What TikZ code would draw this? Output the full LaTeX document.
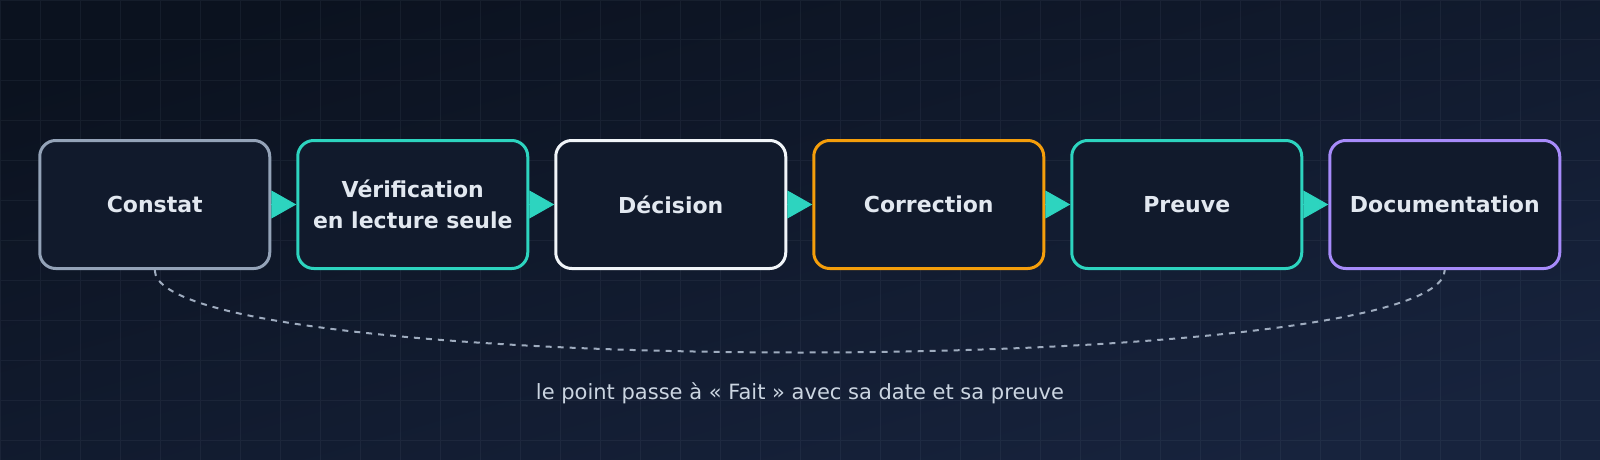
\documentclass[tikz,border=0pt]{standalone}
\usepackage{fontspec}
\setmainfont{DejaVu Sans}
\usetikzlibrary{chains, arrows.meta}

\definecolor{bgtop}{HTML}{0B121F}
\definecolor{bgbottom}{HTML}{17233D}
\definecolor{boxfill}{HTML}{111A2C}
\definecolor{labeltext}{HTML}{E2E8F0}
\definecolor{notetext}{HTML}{CBD5E1}
\definecolor{slate}{HTML}{94A3B8}
\definecolor{teal}{HTML}{2DD4BF}
\definecolor{snow}{HTML}{F1F5F9}
\definecolor{amber}{HTML}{F59E0B}
\definecolor{violet}{HTML}{A78BFA}

\begin{document}
\begin{tikzpicture}[%
        x = 1pt, y = 1pt,
        step box/.style = {%
          on chain,
          minimum width = 230pt,
          minimum height = 128pt,
          rounded corners = 16pt,
          line width = 3pt,
          fill = boxfill,
          text = labeltext,
          align = center,
          font = \fontsize{22}{31}\selectfont\bfseries,
        },
        step arrow/.style = {%
          draw = teal,
          line width = 1pt,
          -{Triangle[length=25pt, width=28pt]},
        },
        loop line/.style = {%
          draw = slate!90,
          line width = 2pt,
          dash pattern = on 6pt off 6pt,
        },
        start chain = going right,
        node distance = 25pt,
      ]
      \useasboundingbox (0,0) rectangle (1600,-460);
      \shade[top color=bgtop, bottom color=bgbottom, shading angle=16] (0,0) rectangle (1600,-460);
      \draw[slate, opacity=0.08, line width=1pt] (0,0) grid[step=40] (1600,-460);

      \node[step box, draw=slate, at={(154.75,-204.5)}] (constat) {Constat};
      \node[step box, draw=teal]   (verification)  {Vérification\\en lecture seule};
      \node[step box, draw=snow]   (decision)      {Décision};
      \node[step box, draw=amber]  (correction)    {Correction};
      \node[step box, draw=teal]   (preuve)        {Preuve};
      \node[step box, draw=violet] (documentation) {Documentation};

      \draw[step arrow] (constat) -- (verification);
      \draw[step arrow] (verification) -- (decision);
      \draw[step arrow] (decision) -- (correction);
      \draw[step arrow] (correction) -- (preuve);
      \draw[step arrow] (preuve) -- (documentation);

      \draw[loop line] (constat.south) .. controls +(0,-110) and +(0,-110) .. (documentation.south);
      \node[text=notetext, font=\fontsize{21}{25}\selectfont] (note) at (800,-393) {le point passe à « Fait » avec sa date et sa preuve};
    \end{tikzpicture}
\end{document}
